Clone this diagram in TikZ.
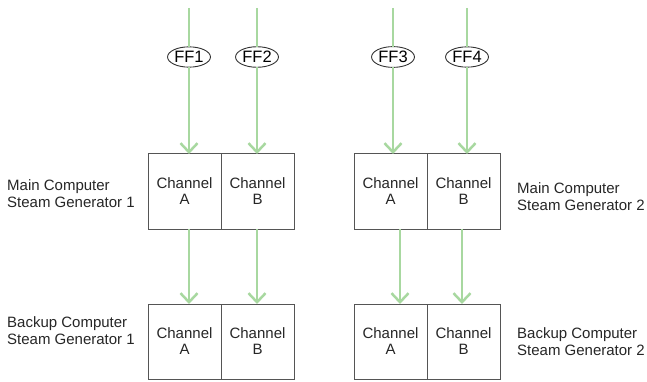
\documentclass[tikz,border=0pt]{standalone}
\usepackage{fontspec}
\setmainfont{Liberation Sans}
\usetikzlibrary{arrows.meta, positioning, shapes.geometric}
\definecolor{flowgreen}{HTML}{A8D8A0}
\definecolor{boxgray}{HTML}{555555}

\begin{document}
\begin{tikzpicture}[x=1pt, y=1pt,
    chan/.style={rectangle, draw=boxgray, line width=1pt, minimum width=73pt,
                 minimum height=75pt, outer sep=0pt, inner sep=0pt, align=center,
                 font=\fontsize{15}{16}\selectfont, text=black!85},
    ff/.style={ellipse, draw=black!80, line width=0.9pt, inner xsep=0.5pt,
               inner ysep=1.5pt, outer sep=0pt, font=\fontsize{16.5}{18}\selectfont},
    feed/.style={line width=2.5pt, draw=flowgreen},
    flow/.style={feed, -{Straight Barb[length=9pt, width=17pt]}},
    lbl/.style={anchor=west, align=left, inner sep=0pt,
                font=\fontsize{15}{17}\selectfont, text=black!85}
]
\useasboundingbox (0,0) rectangle (647,-382);

% Main computers
\node[chan] (m1a) at (184.5,-191.5) {Channel\\A};
\node[chan, right=0pt of m1a] (m1b) {Channel\\B};
\node[chan] (m2a) at (390.5,-191.5) {Channel\\A};
\node[chan, right=0pt of m2a] (m2b) {Channel\\B};

% Backup computers
\node[chan, below=75pt of m1a] (b1a) {Channel\\A};
\node[chan, right=0pt of b1a] (b1b) {Channel\\B};
\node[chan, below=75pt of m2a] (b2a) {Channel\\A};
\node[chan, right=0pt of b2a] (b2b) {Channel\\B};

% Field inputs
\node[ff] (ff1) at (189,-57) {FF1};
\node[ff] (ff2) at (257,-57) {FF2};
\node[ff] (ff3) at (393,-57) {FF3};
\node[ff] (ff4) at (467,-57) {FF4};
\coordinate (in1) at (189,-8);
\coordinate (in2) at (257,-8);
\coordinate (in3) at (393,-8);
\coordinate (in4) at (467,-8);

\foreach \i in {1,...,4} {
  \draw[feed] (in\i) -- (ff\i);
}
\draw[flow] (ff1) -- (ff1 |- m1a.north);
\draw[flow] (ff2) -- (ff2 |- m1b.north);
\draw[flow] (ff3) -- (ff3 |- m2a.north);
\draw[flow] (ff4) -- (ff4 |- m2b.north);

% Main to backup
\draw[flow] (ff1 |- m1a.south) -- (ff1 |- b1a.north);
\draw[flow] (ff2 |- m1b.south) -- (ff2 |- b1b.north);
\draw[flow] ([xshift=9.5pt]m2a.south) -- ([xshift=9.5pt]b2a.north);
\draw[flow] ([xshift=-1.5pt]m2b.south) -- ([xshift=-1.5pt]b2b.north);

% Labels
\node[lbl] (lm1) at (7,-194) {Main Computer\\Steam Generator 1};
\node[lbl] (lb1) at (7,-330.5) {Backup Computer\\Steam Generator 1};
\node[lbl, right=17pt of m2b, yshift=-5pt] (lm2) {Main Computer\\Steam Generator 2};
\node[lbl, right=17pt of b2b, yshift=0pt] (lb2) {Backup Computer\\Steam Generator 2};
\end{tikzpicture}
\end{document}
